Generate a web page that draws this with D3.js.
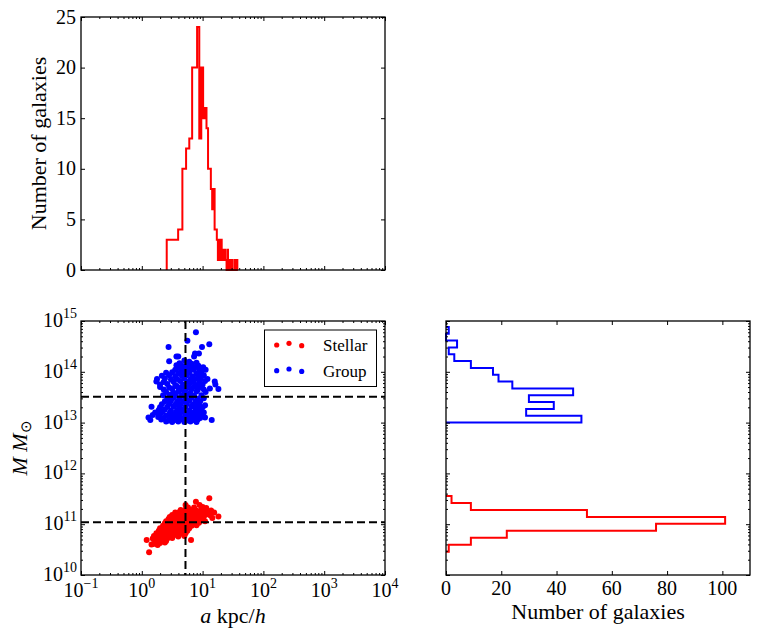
<!DOCTYPE html>
<html><head><meta charset="utf-8">
<script src="https://cdn.jsdelivr.net/npm/d3@7"></script>
</head><body style="margin:0">
<svg id="c" width="757" height="640"></svg>
<script>
// ---------------- DATA ----------------
// Top histogram: bin edges in a (kpc/h) and counts
const aBinEdges = [2.57,3.26,3.96,4.65,5.35,6.04,6.73,7.43,8.12,8.82,9.51,10.20,10.90,11.59,12.29,12.98,13.67,14.37,15.06,15.76,
  16.45,17.14,17.84,18.53,19.23,19.92,20.61,21.31,22.00,22.70,23.39,24.08,24.78,25.47,26.17,26.86,27.55,28.25,28.94,29.64,
  30.33,31.02,31.72,32.41,33.11,33.80,34.49,35.19,35.88,36.58,37.27];
const aCounts = [3,3,4,10,12,13,20,20,24,13,20,15,16,14,10,10,8,6,8,4,
  4,3,1,3,1,3,1,2,1,2,1,1,0,2,1,0,1,0,1,0,
  1,0,0,0,0,1,0,1,0,1];
// Right histogram: log10(M) bin edges and counts
const groupBinEdges = [13.000,13.135,13.269,13.404,13.538,13.673,13.807,13.942,14.076,14.211,14.345,14.480,14.614,14.749,14.883];
const groupCounts = [49,29,39,30,46,24,19,17,9,3,1,4,0,1];
const stellarBinEdges = [10.459,10.596,10.733,10.870,11.007,11.144,11.281,11.418,11.555];
const stellarCounts = [1,9,22,76,101,51,9,2];
// Scatter: [log10 a, log10 M]
const groupPts = [
[0.89,14.78],[0.75,14.61],[1.11,14.54],[0.44,14.49],[0.99,14.49],
[0.57,14.30],[0.875,14.36],[0.94,14.36],[0.60,14.30],[0.86,14.30],
[0.45,14.21],[0.70,14.22],[0.78,14.20],[0.90,14.18],[0.62,14.17],[0.82,14.16],
[0.57,14.13],[0.66,14.12],[0.74,14.13],[0.93,14.12],
[1.01,14.09],[0.60,14.08],[0.70,14.09],[0.80,14.08],[0.88,14.09],
[0.55,14.04],[0.65,14.03],[0.75,14.05],[0.85,14.04],[0.95,14.03],[1.05,14.04],
[0.40,13.98],[0.50,13.99],[0.60,13.97],[0.70,13.98],[0.78,13.99],[0.90,13.97],[0.98,13.98],
[0.33,13.92],[0.45,13.93],[0.55,13.91],[0.66,13.92],[0.74,13.93],[0.83,13.91],[0.93,13.92],[1.02,13.93],
[0.25,13.86],[0.38,13.87],[0.48,13.85],[0.58,13.86],[0.70,13.87],[0.80,13.85],[0.88,13.86],[0.97,13.87],[1.08,13.86],
[0.24,13.81],[0.36,13.80],[0.52,13.81],[0.63,13.82],[0.75,13.80],[0.85,13.81],[0.95,13.80],[1.04,13.82],[1.20,13.81],
[0.30,13.75],[0.42,13.76],[0.55,13.74],[0.68,13.75],[0.78,13.76],[0.90,13.74],[1.00,13.75],[1.21,13.75],
[0.30,13.70],[0.45,13.69],[0.58,13.71],[0.66,13.70],[0.76,13.69],[0.86,13.71],[0.96,13.70],[1.12,13.67],
[0.36,13.65],[0.50,13.66],[0.62,13.64],[0.72,13.65],[0.82,13.66],[0.92,13.64],[1.02,13.65],[1.26,13.66],
[0.40,13.60],[0.52,13.59],[0.60,13.61],[0.70,13.60],[0.80,13.59],[0.90,13.61],[1.05,13.60],
[0.35,13.54],[0.46,13.55],[0.56,13.53],[0.66,13.54],[0.76,13.55],[0.86,13.53],[0.98,13.54],
[0.42,13.48],[0.52,13.49],[0.62,13.47],[0.72,13.48],[0.82,13.49],[0.92,13.47],[1.02,13.48],
[0.38,13.42],[0.48,13.43],[0.58,13.41],[0.68,13.42],[0.78,13.43],[0.88,13.41],[0.96,13.42],
[0.33,13.36],[0.45,13.37],[0.55,13.35],[0.64,13.36],[0.74,13.37],[0.84,13.35],[0.94,13.36],[1.04,13.34],
[0.16,13.31],[0.30,13.30],[0.42,13.31],[0.52,13.32],[0.62,13.30],[0.72,13.31],[0.82,13.32],[0.90,13.31],[1.00,13.30],
[0.28,13.25],[0.38,13.26],[0.48,13.24],[0.58,13.25],[0.68,13.26],[0.78,13.24],[0.88,13.25],[0.96,13.26],
[0.22,13.20],[0.34,13.21],[0.46,13.19],[0.56,13.20],[0.66,13.21],[0.76,13.19],[0.86,13.20],[0.94,13.21],[1.02,13.20],
[0.18,13.15],[0.30,13.16],[0.40,13.14],[0.52,13.15],[0.62,13.16],[0.72,13.14],[0.82,13.15],[0.92,13.16],[0.99,13.14],
[0.11,13.10],[0.27,13.11],[0.36,13.09],[0.48,13.10],[0.58,13.11],[0.68,13.09],[0.78,13.10],[0.88,13.11],[0.96,13.09],[1.04,13.10],
[0.14,13.05],[0.32,13.06],[0.44,13.04],[0.54,13.05],[0.64,13.06],[0.74,13.04],[0.84,13.05],[0.92,13.06],[1.15,13.05],
[0.40,13.02],[0.50,13.01],[0.60,13.02],[0.70,13.01],[0.80,13.02],[0.90,13.01]
];
const stellarPts = [
[1.11,11.51],[0.89,11.44],[0.72,11.38],[0.95,11.38],
[0.76,11.33],[0.86,11.33],[1.00,11.34],[1.06,11.32],
[0.64,11.28],[0.72,11.29],[0.80,11.28],[0.90,11.27],[0.98,11.28],[1.06,11.29],[1.14,11.27],
[0.55,11.23],[0.62,11.24],[0.70,11.22],[0.78,11.23],[0.86,11.24],[0.94,11.22],[1.02,11.23],[1.10,11.24],[1.19,11.23],
[0.50,11.18],[0.58,11.19],[0.66,11.17],[0.74,11.18],[0.82,11.19],[0.90,11.17],[0.98,11.18],[1.06,11.19],[1.13,11.17],
[0.46,11.14],[0.54,11.15],[0.62,11.13],[0.70,11.14],[0.78,11.15],[0.86,11.13],[0.94,11.14],[1.02,11.15],[1.26,11.15],
[0.44,11.10],[0.52,11.11],[0.60,11.09],[0.68,11.10],[0.76,11.11],[0.84,11.09],[0.92,11.10],[1.00,11.11],[1.16,11.12],
[0.40,11.06],[0.48,11.07],[0.56,11.05],[0.64,11.06],[0.72,11.07],[0.80,11.05],[0.88,11.06],[0.96,11.07],[1.04,11.06],
[0.38,11.02],[0.46,11.03],[0.54,11.01],[0.62,11.02],[0.70,11.03],[0.78,11.01],[0.86,11.02],[0.94,11.03],
[0.35,10.97],[0.42,10.98],[0.50,10.96],[0.58,10.97],[0.66,10.98],[0.74,10.96],[0.82,10.97],[0.90,10.98],
[0.30,10.92],[0.38,10.93],[0.46,10.91],[0.54,10.92],[0.62,10.93],[0.70,10.91],[0.78,10.92],
[0.28,10.87],[0.35,10.88],[0.43,10.86],[0.51,10.87],[0.59,10.88],[0.67,10.86],[0.75,10.87],
[0.24,10.82],[0.32,10.83],[0.40,10.81],[0.48,10.82],[0.56,10.83],[0.64,10.81],[0.72,10.82],
[0.20,10.77],[0.28,10.78],[0.36,10.76],[0.44,10.77],[0.52,10.78],[0.60,10.76],[0.70,10.77],
[0.18,10.72],[0.26,10.73],[0.34,10.71],[0.42,10.72],[0.50,10.73],
[0.08,10.69],[0.24,10.68],[0.32,10.69],[0.40,10.67],[0.81,10.69],
[0.22,10.64],[0.30,10.63],[0.38,10.64],
[0.16,10.60],[0.26,10.59],[0.19,10.61],
[0.12,10.45]
];
// Reference (dashed) lines
const aCut = 5.23;
const groupCut = 3.24e13;
const stellarCut = 1.09e11;
// Tick definitions
const aExps = [-1,0,1,2,3,4];
const mExps = [10,11,12,13,14,15];
const countTicks = [0,5,10,15,20,25];
const numTicks = [0,20,40,60,80,100];
const legendItems = [{label:"Stellar", color:"#ff0000"},{label:"Group", color:"#0000ff"}];

// ---------------- LAYOUT ----------------
const svg = d3.select("#c");
const P1 = {x0:81, x1:385, y0:17, y1:270};   // top histogram
const P2 = {x0:81, x1:385, y0:321, y1:575};  // scatter
const P3 = {x0:446, x1:750, y0:321, y1:575}; // right histogram

const xA = d3.scaleLog().domain([0.1,1e4]).range([P1.x0,P1.x1]);
const yC = d3.scaleLinear().domain([0,25]).range([P1.y1,P1.y0]);
const yM = d3.scaleLog().domain([1e10,1e15]).range([P2.y1,P2.y0]);
const xN = d3.scaleLinear().domain([0,110]).range([P3.x0,P3.x1]);

const RED = "#ff0000", BLUE = "#0000ff";
const SERIF_STYLE = "font-family:'Liberation Serif' !important";
const ink = svg.append("g");

function txt(){ return svg.append("text").attr("font-family","Liberation Serif").attr("style",SERIF_STYLE); }
function logTickSets(scale, exps){
  const major = exps.map(e => Math.pow(10,e));
  const minor = scale.ticks().filter(t => Math.abs(Math.log10(t) - Math.round(Math.log10(t))) > 1e-6);
  return {major, minor};
}
function drawTicks(scale, orient, pos, values, size){
  const ax = orient==="bottom" ? d3.axisBottom(scale) : orient==="top" ? d3.axisTop(scale)
           : orient==="left" ? d3.axisLeft(scale) : d3.axisRight(scale);
  ax.tickValues(values).tickSize(-size).tickFormat(() => "");
  const tr = (orient==="bottom"||orient==="top") ? `translate(0,${pos})` : `translate(${pos},0)`;
  const g = ink.append("g").attr("transform", tr).call(ax);
  g.select(".domain").remove();
  g.selectAll("text").remove();
  g.attr("font-family",null).attr("font-size",null);
  g.selectAll("line").attr("stroke","#000").attr("stroke-width",1);
}
function frame(P){
  ink.append("rect").attr("x",P.x0).attr("y",P.y0).attr("width",P.x1-P.x0).attr("height",P.y1-P.y0)
    .attr("fill","none").attr("stroke","#000").attr("stroke-width",1.3);
}
function logLabel(x, y, exp, anchor){
  const t = txt().attr("x",x).attr("y",y).attr("text-anchor",anchor).attr("font-size",20);
  t.append("tspan").text("10");
  t.append("tspan").attr("dy",-9).attr("font-size",14).text(exp<0 ? "\u2212"+(-exp) : String(exp));
}

// ---------------- TOP HISTOGRAM ----------------
const stepTop = [[aBinEdges[0],0]];
aCounts.forEach((c,i) => { stepTop.push([aBinEdges[i],c]); stepTop.push([aBinEdges[i+1],c]); });
stepTop.push([aBinEdges[aBinEdges.length-1],0]);
ink.append("path").datum(stepTop)
  .attr("d", d3.line().x(d => xA(d[0])).y(d => yC(d[1])))
  .attr("fill","none").attr("stroke",RED).attr("stroke-width",2);

const xt = logTickSets(xA, aExps);
drawTicks(xA,"bottom",P1.y1,xt.major,4); drawTicks(xA,"bottom",P1.y1,xt.minor,2);
drawTicks(xA,"top",P1.y0,xt.major,4); drawTicks(xA,"top",P1.y0,xt.minor,2);
drawTicks(yC,"left",P1.x0,countTicks,4); drawTicks(yC,"right",P1.x1,countTicks,4);
frame(P1);

// ---------------- SCATTER ----------------
ink.selectAll("circle.s").data(stellarPts).join("circle").attr("class","s")
  .attr("cx", d => xA(Math.pow(10,d[0]))).attr("cy", d => yM(Math.pow(10,d[1])))
  .attr("r",3).attr("fill",RED);
ink.selectAll("circle.g").data(groupPts).join("circle").attr("class","g")
  .attr("cx", d => xA(Math.pow(10,d[0]))).attr("cy", d => yM(Math.pow(10,d[1])))
  .attr("r",3).attr("fill",BLUE);
const dash = "8,4";
ink.append("line").attr("x1",xA(aCut)).attr("x2",xA(aCut)).attr("y1",P2.y0).attr("y2",P2.y1)
  .attr("stroke","#000").attr("stroke-width",2).attr("stroke-dasharray",dash);
[groupCut, stellarCut].forEach(v => ink.append("line").attr("x1",P2.x0).attr("x2",P2.x1)
  .attr("y1",yM(v)).attr("y2",yM(v)).attr("stroke","#000").attr("stroke-width",2).attr("stroke-dasharray",dash));

const yt = logTickSets(yM, mExps);
drawTicks(xA,"bottom",P2.y1,xt.major,4); drawTicks(xA,"bottom",P2.y1,xt.minor,2);
drawTicks(xA,"top",P2.y0,xt.major,4); drawTicks(xA,"top",P2.y0,xt.minor,2);
drawTicks(yM,"left",P2.x0,yt.major,4); drawTicks(yM,"left",P2.x0,yt.minor,2);
drawTicks(yM,"right",P2.x1,yt.major,4); drawTicks(yM,"right",P2.x1,yt.minor,2);
frame(P2);

// legend box and dots
ink.append("rect").attr("x",264.5).attr("y",330).attr("width",112).attr("height",56.5)
  .attr("fill","#fff").attr("stroke","#000").attr("stroke-width",1);
const dotOffsets = [[276.7,1.7],[289,0],[301.7,2.4]];
legendItems.forEach((it,i) => {
  const cy = 343.3 + i*25.7;
  dotOffsets.forEach(o => ink.append("circle").attr("cx",o[0]).attr("cy",cy+o[1]).attr("r",2.6).attr("fill",it.color));
});

// ---------------- RIGHT HISTOGRAM ----------------
function hStep(edges, counts){
  const pts = [[0,edges[0]]];
  counts.forEach((c,i) => { pts.push([c,edges[i]]); pts.push([c,edges[i+1]]); });
  pts.push([0,edges[edges.length-1]]);
  return pts;
}
const hl = d3.line().x(d => xN(d[0])).y(d => yM(Math.pow(10,d[1])));
ink.append("path").datum(hStep(groupBinEdges,groupCounts)).attr("d",hl)
  .attr("fill","none").attr("stroke",BLUE).attr("stroke-width",2);
ink.append("path").datum(hStep(stellarBinEdges,stellarCounts)).attr("d",hl)
  .attr("fill","none").attr("stroke",RED).attr("stroke-width",2);
drawTicks(xN,"bottom",P3.y1,numTicks,4); drawTicks(xN,"top",P3.y0,numTicks,4);
drawTicks(yM,"left",P3.x0,yt.major,4); drawTicks(yM,"left",P3.x0,yt.minor,2);
drawTicks(yM,"right",P3.x1,yt.major,4); drawTicks(yM,"right",P3.x1,yt.minor,2);
frame(P3);

// ---------------- ALL TEXT ----------------
countTicks.forEach(v => txt().attr("x",P1.x0-5).attr("y",yC(v)+6.5)
  .attr("text-anchor","end").attr("font-size",20).text(v));
txt().attr("transform",`translate(46,${(P1.y0+P1.y1)/2}) rotate(-90)`)
  .attr("text-anchor","middle").attr("font-size",22).text("Number of galaxies");
aExps.forEach(e => logLabel(xA(Math.pow(10,e)), 597, e, "middle"));
mExps.forEach(e => logLabel(P2.x0-4, yM(Math.pow(10,e))+6, e, "end"));
const xl = txt().attr("x",(P2.x0+P2.x1)/2).attr("y",623).attr("text-anchor","middle").attr("font-size",22);
xl.append("tspan").attr("font-style","italic").text("a");
xl.append("tspan").text(" kpc/");
xl.append("tspan").attr("font-style","italic").text("h");
const yl = txt().attr("transform",`translate(27,${(P2.y0+P2.y1)/2}) rotate(-90)`)
  .attr("text-anchor","middle").attr("font-size",22);
yl.append("tspan").attr("font-style","italic").text("M");
yl.append("tspan").text(" ");
yl.append("tspan").attr("font-style","italic").text("M");
yl.append("tspan").attr("dy",4).attr("font-size",15).text("\u2299");
legendItems.forEach((it,i) => txt().attr("x",323).attr("y",351 + i*25.7).attr("font-size",17).text(it.label));
numTicks.forEach(v => txt().attr("x",xN(v)).attr("y",595).attr("text-anchor","middle")
  .attr("font-size",20).text(v));
txt().attr("x",(P3.x0+P3.x1)/2).attr("y",619).attr("text-anchor","middle")
  .attr("font-size",22).text("Number of galaxies");
</script>
</body></html>
